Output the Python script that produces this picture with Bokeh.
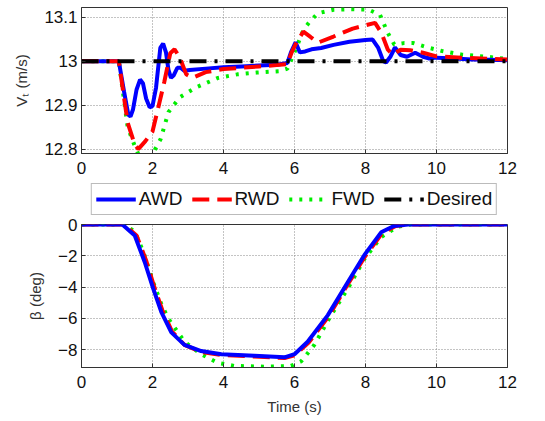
from bokeh.plotting import figure
from bokeh.models import Range1d, FixedTicker, Legend, LegendItem, PrintfTickFormatter
from bokeh.layouts import column
from bokeh.embed import file_html
from bokeh.resources import INLINE

# ---------------- data ----------------
x_ticks = [0, 2, 4, 6, 8, 10, 12]
v_ticks = [12.8, 12.9, 13.0, 13.1]
b_ticks = [-8, -6, -4, -2, 0]

# Top panel: V_t (m/s)
awd_v_t = [0, 1.05, 1.2, 1.32, 1.38, 1.45, 1.55, 1.65, 1.73, 1.82, 1.92, 2.0, 2.1, 2.22, 2.3, 2.38, 2.45, 2.52, 2.6,
           2.7, 2.79, 2.9, 3.05, 3.5, 4.0, 4.5, 5.0, 5.5, 5.8, 5.9,
           6.03, 6.15, 6.3, 6.48, 6.75, 7.1, 7.55, 8.0, 8.2, 8.36, 8.5, 8.58, 8.7, 8.83, 8.99, 9.17, 9.4, 9.62, 9.8, 10.0,
           10.5, 11.0, 11.5, 12.0]
awd_v = [13, 13, 12.93, 12.878, 12.874, 12.89, 12.935, 12.958, 12.95, 12.915, 12.895, 12.898, 12.94, 13.03, 13.04,
         13.02, 12.98, 12.962, 12.968, 12.985, 12.985, 12.978, 12.98,
         12.983, 12.986, 12.988, 12.99, 12.992, 12.996, 13.02, 13.043, 13.02, 13.022, 13.027, 13.03, 13.037, 13.044,
         13.048, 13.049, 13.03, 13.0, 12.997, 13.01, 13.031, 13.014, 13.01, 13.019, 13.01, 13.006, 13.008, 13.006,
         13.004, 13.003, 13.002]

rwd_v_t = [0, 1.05, 1.3, 1.5, 1.6, 1.8, 2.0, 2.15, 2.33, 2.5, 2.62, 2.77, 2.95, 3.13, 3.5, 4.0, 4.5, 5.0, 5.5, 5.8, 5.92,
           6.07, 6.25, 6.45, 6.66, 7.1, 7.64, 8.27, 8.45, 8.63, 8.76, 8.99, 9.26, 9.62, 10.0, 10.7, 11.5, 12.0]
rwd_v = [13, 13, 12.86, 12.81, 12.8, 12.818, 12.84, 12.89, 12.952, 13.018, 13.027, 13.008, 12.97, 12.962, 12.975,
         12.982, 12.985, 12.988, 12.991, 12.993, 13.02, 13.045, 13.067, 13.055, 13.042, 13.056, 13.074, 13.087, 13.064,
         13.026, 13.015, 13.026, 13.025, 13.019, 13.011, 13.008, 13.005, 13.004]

fwd_v_t = [0, 1.05, 1.3, 1.5, 1.65, 1.85, 2.05, 2.23, 2.45, 2.77, 3.22, 3.85, 4.39, 4.93, 5.56, 5.8, 6.03, 6.25, 6.43,
           6.66, 7.1, 7.55, 8.09, 8.41, 8.63, 8.81, 9.08, 9.35, 9.8, 10.16, 10.7, 11.42, 12.0]
fwd_v = [13, 13, 12.85, 12.807, 12.78, 12.77, 12.796, 12.823, 12.884, 12.918, 12.94, 12.962, 12.97, 12.974, 12.977,
         12.983, 13.026, 13.071, 13.09, 13.109, 13.117, 13.118, 13.117, 13.105, 13.064, 13.038, 13.041, 13.041, 13.03,
         13.023, 13.015, 13.01, 13.005]

des_t = [0, 12]
des_v = [13, 13]

# Bottom panel: beta (deg)
awd_b_t = [0, 1.15, 1.5, 1.78, 2.02, 2.25, 2.53, 2.9, 3.37, 3.94, 4.87, 5.72, 6.0, 6.37, 6.94, 7.5, 7.97, 8.44, 8.8, 9.2, 12]
awd_b = [0, 0, -0.7, -2.4, -4.1, -5.6, -6.9, -7.7, -8.1, -8.3, -8.4, -8.5, -8.3, -7.5, -5.8, -3.7, -1.95, -0.5, -0.1, 0, 0]

rwd_b_t = [0, 1.2, 1.55, 1.82, 2.05, 2.28, 2.55, 2.9, 3.37, 3.94, 4.87, 5.72, 6.02, 6.4, 6.97, 7.52, 8.0, 8.47, 8.85, 9.25, 12]
rwd_b = [0, 0, -0.7, -2.3, -4.0, -5.5, -6.85, -7.7, -8.15, -8.35, -8.45, -8.55, -8.35, -7.55, -5.85, -3.75, -2.0, -0.55, -0.1, 0, 0]

fwd_b_t = [0, 1.2, 1.5, 1.75, 2.02, 2.25, 2.44, 2.9, 3.37, 3.84, 4.3, 5.25, 5.9, 6.19, 6.56, 7.03, 7.5, 7.97, 8.44, 8.9, 9.28, 12]
fwd_b = [0, 0, -0.45, -1.8, -3.7, -5.1, -6.0, -7.5, -8.3, -8.85, -9.05, -9.1, -9.05, -8.75, -7.7, -5.8, -4.1, -2.2, -0.8, -0.15, 0, 0]

labels = ["AWD", "RWD", "FWD", "Desired"]

# ---------------- styles ----------------
FONT = "Liberation Sans"
C_AWD, C_RWD, C_FWD, C_DES = "#0000ff", "#ff0000", "#00ee00", "#000000"
STY = {
    "AWD": dict(line_color=C_AWD, line_width=4),
    "RWD": dict(line_color=C_RWD, line_width=4, line_dash="17 8"),
    "FWD": dict(line_color=C_FWD, line_width=4, line_dash="3 7"),
    "Desired": dict(line_color=C_DES, line_width=4, line_dash="17 8 3 8"),
}
W = 540
BL, BR = 81, 33


def style(p, ylabel, yticks, label_standoff):
    p.xaxis.ticker = FixedTicker(ticks=x_ticks)
    p.yaxis.ticker = FixedTicker(ticks=yticks)
    for ax in p.axis:
        ax.major_label_text_font = FONT
        ax.major_label_text_font_size = "17px"
        ax.major_label_text_color = "#111111"
        ax.major_tick_in = 4
        ax.major_tick_out = 0
        ax.minor_tick_in = 0
        ax.minor_tick_out = 0
        ax.axis_line_color = "#333333"
        ax.major_tick_line_color = "#333333"
        ax.axis_label_text_font = FONT
        ax.axis_label_text_font_size = "15px"
        ax.axis_label_text_font_style = "normal"
        ax.axis_label_text_color = "#333333"
    p.yaxis.axis_label = ylabel
    p.yaxis.major_label_standoff = 4
    p.yaxis.axis_label_standoff = label_standoff
    p.xaxis.major_label_standoff = 8
    p.grid.grid_line_color = "#888888"
    p.grid.grid_line_dash = "1 2"
    p.grid.grid_line_width = 1
    p.outline_line_color = "#333333"
    p.outline_line_width = 1
    p.background_fill_color = "white"
    p.border_fill_color = "white"


# ---------------- top figure ----------------
p1 = figure(width=W, height=181, x_range=Range1d(0, 12), y_range=Range1d(12.79, 13.122),
            output_backend="svg", toolbar_location=None,
            min_border_left=BL, min_border_right=BR, min_border_top=7, min_border_bottom=28)
style(p1, "Vₜ (m/s)", v_ticks, 11)
p1.yaxis.formatter = PrintfTickFormatter(format="%g")

p1.line(fwd_v_t, fwd_v, **STY["FWD"])
p1.line(awd_v_t, awd_v, **STY["AWD"])
p1.line(rwd_v_t, rwd_v, **STY["RWD"])
p1.line(des_t, des_v, **STY["Desired"])

# ---------------- legend strip ----------------
pl = figure(width=W, height=35, x_range=Range1d(0, 1), y_range=Range1d(0, 1),
            output_backend="svg", toolbar_location=None,
            x_axis_location=None, y_axis_location=None,
            min_border_left=BL, min_border_right=BR, min_border_top=0, min_border_bottom=0)
pl.grid.visible = False
pl.outline_line_color = None
items = []
for lab in labels:
    # legend-only renderers: data lies outside the visible range
    r = pl.line([-5, -4], [-5, -4], **STY[lab])
    items.append(LegendItem(label=lab, renderers=[r]))
legend = Legend(items=items, orientation="horizontal", location="center",
                label_text_font=FONT, label_text_font_size="19px", label_text_color="#111111",
                glyph_width=40, glyph_height=20, label_height=20, label_standoff=3,
                spacing=9, padding=4, margin=0,
                border_line_color="#777777", border_line_width=1.5,
                background_fill_color="white", background_fill_alpha=1)
pl.add_layout(legend, "center")

# ---------------- bottom figure ----------------
p2 = figure(width=W, height=203, x_range=Range1d(0, 12), y_range=Range1d(-9.15, 0),
            output_backend="svg", toolbar_location=None,
            min_border_left=BL, min_border_right=BR, min_border_top=8, min_border_bottom=52)
style(p2, "β (deg)", b_ticks, 11)
p2.xaxis.axis_label = "Time (s)"
p2.xaxis.axis_label_standoff = 7
p2.xaxis.major_label_standoff = 8

p2.line(fwd_b_t, fwd_b, **STY["FWD"])
p2.line(rwd_b_t, rwd_b, **STY["RWD"])
p2.line(awd_b_t, awd_b, **STY["AWD"])

layout = column(p1, pl, p2, spacing=0)
open("out.html", "w").write(file_html(layout, INLINE))
